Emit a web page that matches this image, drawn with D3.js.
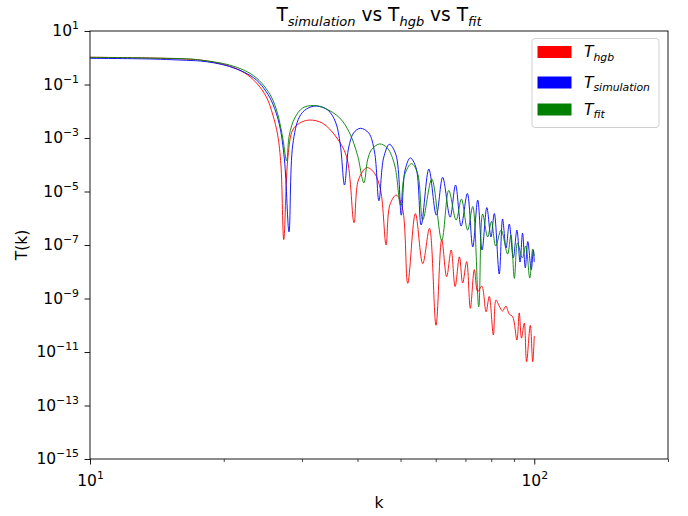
<!DOCTYPE html>
<html>
<head>
<meta charset="utf-8">
<script src="https://cdn.jsdelivr.net/npm/d3@7"></script>
<style>
  body { margin: 0; background: #fff; }
  svg { display: block; }
  text { font-family: "DejaVu Sans", sans-serif; fill: #000; }
</style>
</head>
<body>
<svg id="chart" width="688" height="516"></svg>
<script>
// Transfer function T(k): hgb model
const kHgb = [10, 13.6, 16.8, 17.7, 19.1, 20.6, 22.3, 23.7, 24.95, 25.8, 26.45, 26.9, 27.3, 27.9, 28.6, 29.6, 31.2,
  33.4, 35.8, 37.8, 39.3, 40.2, 42.0, 43.7, 45.1, 46.4, 47.3, 48.9, 50.5, 51.9, 54.0, 56.1,
  58.1, 60.1, 61.9, 63.5, 65.0, 66.35, 67.85, 69.0, 70.45, 71.8, 73.3, 74.6, 76.2, 77.9, 79.2,
  80.9, 82.0, 83.4, 84.85, 86.3, 87.85, 89.4, 91.4, 92.5, 93.6, 94.95, 96.1, 97.95, 99.2, 100];
const tHgb = [1.04, 0.98, 0.875, 0.824, 0.664, 0.492, 0.269, 0.114, 0.034, 7.2e-3, 1.3e-3, 9.8e-5, 1.6e-7, 2.0e-4, 2.0e-3, 3.55e-3, 4.7e-3,
  3.55e-3, 1.1e-3, 2.0e-4, 6.8e-7, 2.7e-5, 7.8e-5, 4.8e-5, 1.1e-5, 1.0e-7, 3.1e-6, 7.4e-6, 2.4e-6, 3.7e-9, 1.5e-6, 2.0e-8,
  4.2e-7, 1.0e-10, 1.6e-7, 6.5e-9, 6.5e-8, 2.8e-9, 3.6e-8, 3.8e-9, 2.4e-8, 4.3e-10, 1.2e-8, 1.8e-9, 2.9e-9, 3.2e-10, 1.2e-9,
  4.3e-11, 8.8e-10, 5.2e-10, 3.4e-10, 5.2e-10, 2.6e-10, 2.1e-10, 2.8e-11, 2.9e-10, 3.3e-11, 1.2e-10, 4.3e-12, 1.0e-10, 4.3e-12, 4.0e-11];

// Transfer function T(k): simulation
const kSim = [10, 13.6, 16.8, 17.7, 19.1, 20.6, 22.3, 23.7, 24.95, 25.8, 26.7, 27.4, 28.05, 28.6, 29.6, 30.7, 32.3,
  34.3, 35.7, 36.6, 37.4, 38.2, 39.2, 40.6, 42.4, 43.7, 44.7, 45.8, 47.2, 48.85, 50.2, 51.2,
  52.6, 54.2, 55.65, 57.9, 60.2, 62.2, 64.65, 66.5, 68.45, 70.7, 72.7, 74.6, 76.3, 78.2, 79.9,
  81.3, 83.4, 84.85, 86.4, 87.85, 89.7, 91.4, 92.9, 94.1, 95.45, 96.7, 98.45, 99.5, 100];
const tSim = [0.95, 0.90, 0.79, 0.756, 0.636, 0.471, 0.281, 0.147, 0.0525, 0.0187, 3.06e-3, 1.5e-4, 3.1e-7, 5.5e-4, 6.1e-3, 0.0121, 0.0157,
  0.0111, 3.96e-3, 5.5e-4, 1.75e-5, 4.2e-4, 1.54e-3, 2.3e-3, 1.54e-3, 3.0e-4, 4.5e-6, 1.8e-4, 5.8e-4, 2.3e-4, 1.3e-6, 6.4e-5,
  1.8e-4, 7.6e-5, 5.6e-7, 6.9e-5, 1.3e-6, 3.4e-5, 1.1e-6, 1.75e-5, 5.1e-7, 8.4e-6, 8.4e-8, 4.8e-6, 6.5e-8, 2.5e-6, 2.0e-7,
  1.5e-6, 8.2e-9, 9.4e-7, 7.7e-8, 6.1e-7, 3.3e-8, 3.6e-7, 2.3e-8, 2.8e-7, 1.4e-8, 1.35e-7, 1.2e-8, 6.5e-8, 2.3e-8];

// Transfer function T(k): fit
const kFit = [10, 13.6, 16.8, 17.7, 19.1, 20.6, 22.3, 23.7, 24.95, 25.8, 26.6, 27.2, 27.7, 28.1, 28.9, 30.1, 31.8,
  33.7, 36.5, 38.4, 40.0, 41.35, 42.15, 43.0, 44.85, 46.7, 48.5, 50.0, 51.05, 52.9, 54.6, 56.1,
  58.8, 61.9, 64.2, 66.7, 68.55, 70.8, 72.7, 75.0, 76.5, 78.55, 80.1, 81.9, 84.2, 87.1, 88.6,
  90.2, 91.7, 94.0, 95.7, 97.7, 99.2, 100];
const tFit = [1.04, 0.98, 0.90, 0.824, 0.694, 0.536, 0.334, 0.175, 0.068, 0.0263, 5.6e-3, 8.4e-4, 1.4e-4, 1.3e-3, 5.6e-3, 0.0132, 0.0164,
  0.0132, 5.6e-3, 1.54e-3, 2.3e-4, 2.1e-5, 1.5e-4, 3.6e-4, 6.0e-4, 4.2e-4, 9.8e-5, 3.1e-6, 4.1e-5, 1.1e-4, 4.9e-5, 8.6e-7,
  2.9e-5, 1.5e-7, 1.1e-5, 8.6e-7, 5.2e-6, 3.6e-7, 2.75e-6, 4.9e-10, 1.44e-6, 2.0e-7, 7.6e-7, 9.2e-8, 3.6e-7, 4.6e-8, 2.4e-7,
  5.7e-9, 1.2e-7, 3.3e-8, 9.2e-8, 5.8e-9, 7.1e-8, 3.9e-8];

// Axis ticks
const xMajorTicks = [10, 100];
const xMinorTicks = [20, 30, 40, 50, 60, 70, 80, 90, 200];
const yTicks = [1e1, 1e-1, 1e-3, 1e-5, 1e-7, 1e-9, 1e-11, 1e-13, 1e-15];

// Legend entries and series colours
const legendSubs = ["hgb", "simulation", "fit"];
const seriesColors = ["#ff0000", "#0000ff", "#008000"];

const svg = d3.select("#chart");
const plot = { left: 90, right: 668, top: 31, bottom: 459 };
const FS = 15.5;

const x = d3.scaleLog().domain([10, 200]).range([plot.left, plot.right]);
const y = d3.scaleLog().domain([1e-15, 10]).range([plot.bottom, plot.top]);

svg.append("defs").append("clipPath").attr("id", "plotclip")
  .append("rect")
  .attr("x", plot.left).attr("y", plot.top)
  .attr("width", plot.right - plot.left).attr("height", plot.bottom - plot.top);

// series lines
const line = d3.line()
  .x(d => x(d[0]))
  .y(d => y(d[1]))
  .curve(d3.curveCatmullRom.alpha(0.5));

const series = [
  d3.zip(kHgb, tHgb),
  d3.zip(kSim, tSim),
  d3.zip(kFit, tFit)
];

const lines = svg.append("g").attr("clip-path", "url(#plotclip)");
series.forEach((s, i) => {
  lines.append("path")
    .datum(s)
    .attr("d", line)
    .attr("fill", "none")
    .attr("stroke", seriesColors[i])
    .attr("stroke-width", 0.9)
    .attr("stroke-linejoin", "round");
});

// superscript power-of-ten label
function powLabel(sel, v) {
  const e = Math.round(Math.log10(v));
  sel.text(null);
  sel.append("tspan").text("10");
  sel.append("tspan")
    .attr("dy", -7)
    .attr("font-size", FS * 0.7)
    .text(e < 0 ? "\u2212" + Math.abs(e) : String(e));
}

// x axis
const xAxis = svg.append("g")
  .attr("transform", `translate(0,${plot.bottom})`)
  .call(d3.axisBottom(x).tickValues(xMajorTicks).tickSize(5.5).tickSizeOuter(0).tickPadding(5));
xAxis.select(".domain").remove();
xAxis.selectAll(".tick line").attr("stroke", "#000").attr("stroke-width", 0.9);
xAxis.selectAll(".tick text")
  .attr("font-size", FS)
  .attr("font-family", "DejaVu Sans, sans-serif")
  .attr("dy", "1.05em")
  .each(function(d) { powLabel(d3.select(this), d); });

const xMinor = svg.append("g")
  .attr("transform", `translate(0,${plot.bottom})`)
  .call(d3.axisBottom(x).tickValues(xMinorTicks).tickSize(3).tickSizeOuter(0).tickFormat(""));
xMinor.select(".domain").remove();
xMinor.selectAll(".tick line").attr("stroke", "#000").attr("stroke-width", 0.7);

// y axis
const yAxis = svg.append("g")
  .attr("transform", `translate(${plot.left},0)`)
  .call(d3.axisLeft(y).tickValues(yTicks).tickSize(5.5).tickSizeOuter(0).tickPadding(5.5));
yAxis.select(".domain").remove();
yAxis.selectAll(".tick line").attr("stroke", "#000").attr("stroke-width", 0.9);
yAxis.selectAll(".tick text")
  .attr("font-size", FS)
  .attr("font-family", "DejaVu Sans, sans-serif")
  .attr("dy", "0.32em")
  .each(function(d) { powLabel(d3.select(this), d); });

// frame
svg.append("rect")
  .attr("x", plot.left).attr("y", plot.top)
  .attr("width", plot.right - plot.left).attr("height", plot.bottom - plot.top)
  .attr("fill", "none").attr("stroke", "#000").attr("stroke-width", 0.9);

// axis labels
svg.append("text")
  .attr("x", (plot.left + plot.right) / 2).attr("y", 508)
  .attr("text-anchor", "middle").attr("font-size", FS)
  .text("k");

svg.append("text")
  .attr("transform", `translate(27,${(plot.top + plot.bottom) / 2}) rotate(-90)`)
  .attr("text-anchor", "middle").attr("font-size", FS)
  .text("T(k)");

// title with subscripts
const title = svg.append("text")
  .attr("x", (plot.left + plot.right) / 2).attr("y", 21)
  .attr("text-anchor", "middle").attr("font-size", 18.6);
const titleParts = [["T", "simulation"], [" vs T", "hgb"], [" vs T", "fit"]];
titleParts.forEach(([main, sub], i) => {
  title.append("tspan").attr("dy", i === 0 ? 0 : -4.5).text(main);
  title.append("tspan").attr("dy", 4.5).attr("font-size", 13).attr("font-style", "italic").text(sub);
});

// legend
const lg = svg.append("g");
lg.append("rect")
  .attr("x", 532).attr("y", 38.5).attr("width", 127).attr("height", 89)
  .attr("rx", 3).attr("fill", "#fff").attr("fill-opacity", 0.8)
  .attr("stroke", "#cccccc").attr("stroke-width", 0.9);
const entryY = [52, 82.5, 109.5];
legendSubs.forEach((sub, i) => {
  lg.append("rect")
    .attr("x", 537.5).attr("y", entryY[i] - 6).attr("width", 34).attr("height", 12)
    .attr("fill", seriesColors[i]);
  const t = lg.append("text")
    .attr("x", 584).attr("y", entryY[i] + 5)
    .attr("font-size", FS).attr("font-style", "italic");
  t.append("tspan").text("T");
  t.append("tspan").attr("dy", 3.5).attr("font-size", FS * 0.7).text(sub);
});
</script>
</body>
</html>
